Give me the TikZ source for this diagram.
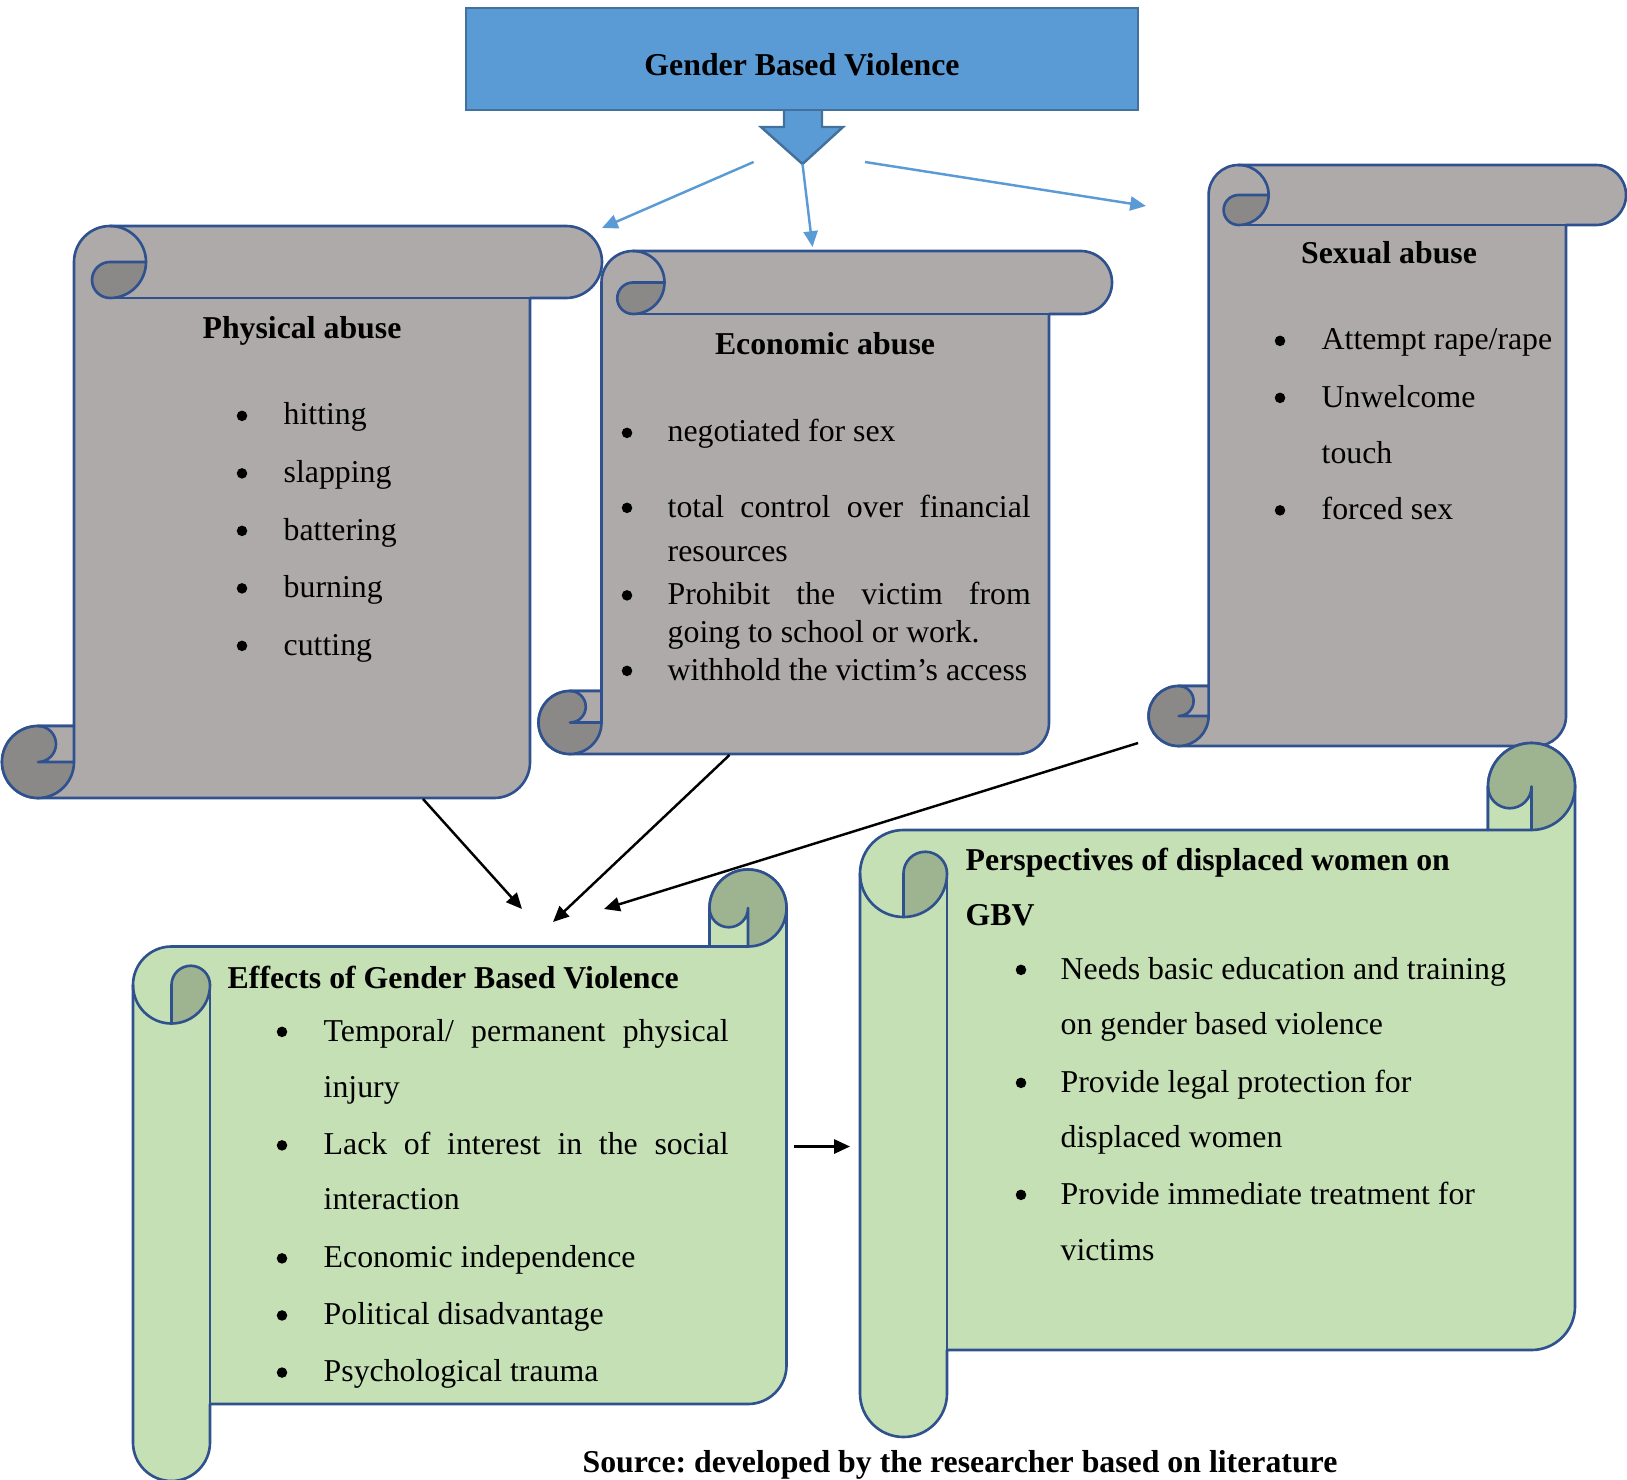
\documentclass[tikz,border=0pt]{standalone}
\usepackage{fontspec}
\setmainfont{Liberation Serif}
\usetikzlibrary{arrows.meta}
\frenchspacing

\definecolor{gbvblue}{HTML}{5B9BD5}
\definecolor{gbvedge}{HTML}{41719C}
\definecolor{scrolledge}{HTML}{2F528F}
\definecolor{paper}{HTML}{AEAAAA}
\definecolor{paperdark}{HTML}{8B8888}
\definecolor{leaf}{HTML}{C5E0B4}
\definecolor{leafdark}{HTML}{9EB390}

% horizontal scroll: #1,#2 = top left, #3,#4 = bottom right, #5 = roll size
\newcommand{\hscroll}[7]{%
  \pgfmathsetmacro\scA{#1+#5}%
  \pgfmathsetmacro\scB{#3-#5}%
  \pgfmathsetmacro\scR{#5/2}%
  \pgfmathsetmacro\scQ{#5/4}%
  \begin{scope}[draw=scrolledge, line width=0.75pt, line join=round]
    % paper and top roll
    \filldraw[fill=#6] (\scA,#2+\scR) arc[start angle=180, end angle=270, radius=\scR]
      -- (#3-\scR,#2) arc[start angle=270, end angle=450, radius=\scR]
      -- (\scB,#2+#5) -- (\scB,#4-\scR) arc[start angle=0, end angle=90, radius=\scR]
      -- (#1+\scR,#4) arc[start angle=90, end angle=270, radius=\scR]
      -- (\scA,#4-#5) -- cycle;
    % lower curl
    \fill[#7] (#1+\scR,#4-\scR) circle[radius=\scR];
    \fill[#6] (#1+\scR,#4-#5) rectangle (\scA,#4-\scR);
    \fill[#7] (#1+\scR,#4-#5) arc[start angle=270, end angle=450, radius=\scQ] -- cycle;
    \draw (#1+\scR,#4) arc[start angle=90, end angle=270, radius=\scR]
      -- (\scA,#4-#5) -- (\scA,#4-\scR) arc[start angle=0, end angle=90, radius=\scR];
    \draw (#1+\scR,#4-#5) arc[start angle=270, end angle=450, radius=\scQ] -- (\scA,#4-\scR);
    % upper curl
    \filldraw[fill=#7] (\scA+\scR,#2+\scR) -- (\scA+#5,#2+\scR)
      arc[start angle=0, end angle=90, radius=\scR]
      arc[start angle=90, end angle=270, radius=\scQ] -- cycle;
    \draw (\scA+\scR,#2) arc[start angle=270, end angle=360, radius=\scR];
    \draw (\scA+\scR,#2+#5) -- (#3-\scR,#2+#5);
  \end{scope}}

% vertical scroll = the horizontal one mirrored on the diagonal
\newcommand{\vscroll}[7]{%
  \begin{scope}[cm={0,-1,-1,0,(0,0)}]
    \hscroll{#2}{#1}{#4}{#3}{#5}{#6}{#7}
  \end{scope}}

\begin{document}
\begin{tikzpicture}[x=0.1mm, y=-0.1mm,
  every node/.style={font=\fontsize{9.05}{11}\selectfont, inner sep=0pt},
  heading/.style={font=\fontsize{9.05}{11}\selectfont\bfseries, anchor=base},
  entry/.style={anchor=base west},
  dot/.style={circle, fill=black, minimum size=3pt, yshift=2.6pt},
  link/.style={-{Triangle[length=4.5pt,width=4pt]}, line width=0.7pt},
  bluelink/.style={link, draw=gbvblue}
]
  \useasboundingbox (0,0) rectangle (1627,1480);

  % top box with block arrow
  \draw[fill=gbvblue, draw=gbvedge, line width=0.7pt, line join=miter]
    (784,110) -- (784,127) -- (761,127) -- (802.5,164) -- (843,127) -- (822,127) -- (822,110);
  \draw[fill=gbvblue, draw=gbvedge, line width=0.7pt] (466,8) rectangle (1138,110);
  \node[heading] (gbvtext) at (802,76) {Gender Based Violence};

  % scrolls
  \hscroll{2}{226}{602}{798}{72}{paper}{paperdark}
  \hscroll{538.5}{251}{1112}{754}{63}{paper}{paperdark}
  \hscroll{1148.6}{165}{1626}{746}{60}{paper}{paperdark}
  \vscroll{133}{869.5}{786.5}{1481}{77}{leaf}{leafdark}
  \vscroll{860}{743}{1575}{1437}{87}{leaf}{leafdark}

  % Physical abuse
  \node[heading] (phystitle) at (302,339) {Physical abuse};
  \foreach \word [count=\i] in {hitting, slapping, battering, burning, cutting}{
    \node[dot] (physdot\i) at (242,367.5+57.5*\i) {};
    \node[entry] (phys\i) at (283,367.5+57.5*\i) {\word};
  }

  % Economic abuse
  \node[heading] (econtitle) at (825,355) {Economic abuse};
  \foreach \y [count=\i] in {442,517,604.5,680}
    \node[dot] (econdot\i) at (627,\y) {};
  \node[entry] (econ1) at (667,442) {negotiated for sex};
  \node[entry] (econ2) at (667,517) {\makebox[36.3mm][s]{total control over financial}};
  \node[entry] (econ3) at (667,561) {resources};
  \node[entry] (econ4) at (667,604.5) {\makebox[36.3mm][s]{Prohibit the victim from}};
  \node[entry] (econ5) at (667,642) {going to school or work.};
  \node[entry] (econ6) at (667,680) {withhold the victim’s access};

  % Sexual abuse
  \node[heading] (sextitle) at (1389,264) {Sexual abuse};
  \foreach \y [count=\i] in {350,407,519.5}
    \node[dot] (sexdot\i) at (1280,\y) {};
  \node[entry] (sex1) at (1321,350) {Attempt rape/rape};
  \node[entry] (sex2) at (1321,407) {Unwelcome};
  \node[entry] (sex3) at (1321,463) {touch};
  \node[entry] (sex4) at (1321,519.5) {forced sex};

  % Effects
  \node[heading, anchor=base west] (efftitle) at (227,988) {Effects of Gender Based Violence};
  \foreach \y [count=\i] in {1041,1154.5,1267.5,1324.6,1381.7}
    \node[dot] (effdot\i) at (282,\y) {};
  \node[entry] (eff1) at (323,1041) {\makebox[40.5mm][s]{Temporal/ permanent physical}};
  \node[entry] (eff2) at (323,1097) {injury};
  \node[entry] (eff3) at (323,1154.5) {\makebox[40.5mm][s]{Lack of interest in the social}};
  \node[entry] (eff4) at (323,1209.5) {interaction};
  \node[entry] (eff5) at (323,1267.5) {Economic independence};
  \node[entry] (eff6) at (323,1324.6) {Political disadvantage};
  \node[entry] (eff7) at (323,1381.7) {Psychological trauma};

  % Perspectives
  \node[heading, anchor=base west] (pertitle1) at (965,870) {Perspectives of displaced women on};
  \node[heading, anchor=base west] (pertitle2) at (965,925) {GBV};
  \foreach \y [count=\i] in {979,1092,1204}
    \node[dot] (perdot\i) at (1021,\y) {};
  \node[entry] (per1) at (1060,979) {Needs basic education and training};
  \node[entry] (per2) at (1060,1034) {on gender based violence};
  \node[entry] (per3) at (1060,1092) {Provide legal protection for};
  \node[entry] (per4) at (1060,1147) {displaced women};
  \node[entry] (per5) at (1060,1204) {Provide immediate treatment for};
  \node[entry] (per6) at (1060,1260) {victims};

  \node[heading] (source) at (960,1472) {Source: developed by the researcher based on literature};

  % arrows
  \coordinate (forkL) at (753.6,162);
  \coordinate (fork) at (802.5,164);
  \coordinate (forkR) at (865,162);
  \coordinate (physIn) at (602,228);
  \coordinate (econIn) at (812.5,247);
  \coordinate (sexIn) at (1146,206);
  \draw[bluelink] (forkL) -- (physIn);
  \draw[bluelink] (fork) -- (econIn);
  \draw[bluelink] (forkR) -- (sexIn);

  \coordinate (physOut) at (423,799);
  \coordinate (econOut) at (729.5,755);
  \coordinate (sexOut) at (1138,743);
  \coordinate (effIn1) at (522,909);
  \coordinate (effIn2) at (553,922);
  \coordinate (effIn3) at (604,909);
  \draw[link] (physOut) -- (effIn1);
  \draw[link] (econOut) -- (effIn2);
  \draw[link] (sexOut) -- (effIn3);

  \coordinate (effOut) at (794,1146.5);
  \coordinate (perIn) at (850,1146.5);
  \draw[link] (effOut) -- (perIn);
\end{tikzpicture}
\end{document}
